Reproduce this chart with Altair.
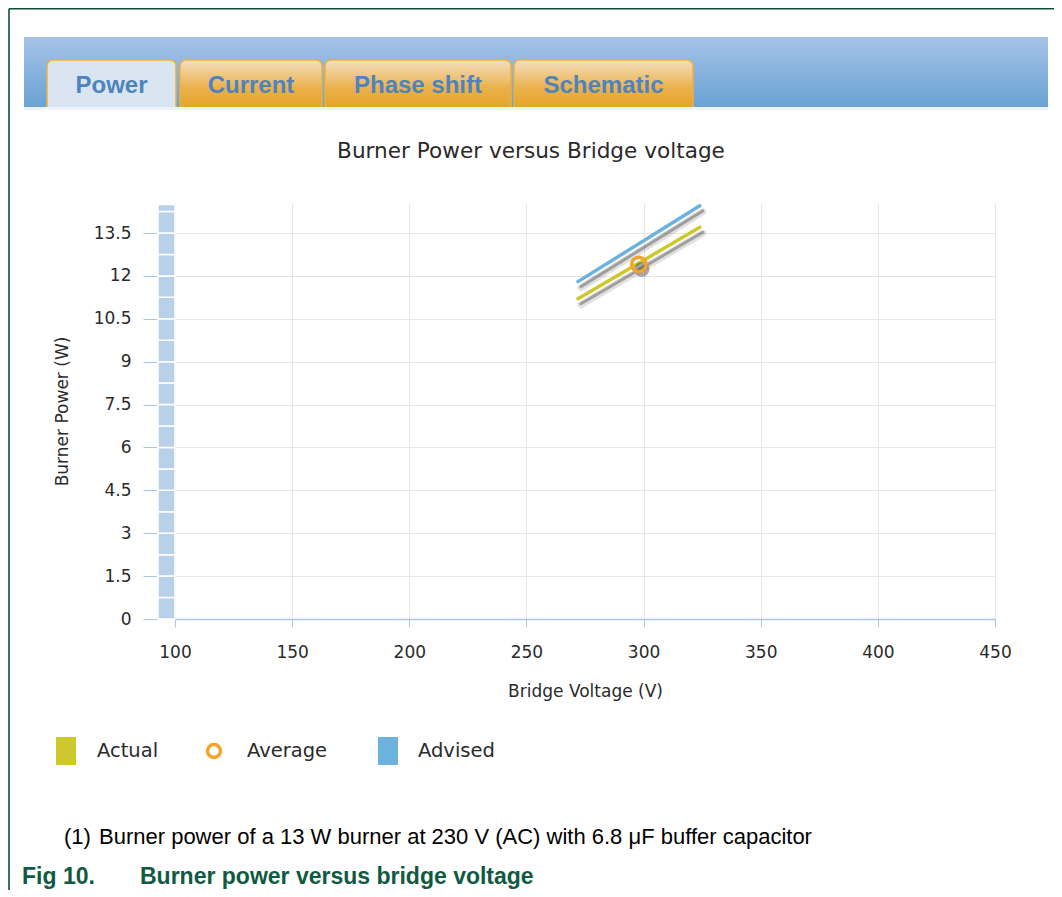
import altair as alt
import pandas as pd

# ---------------- data ----------------
actual_volts = [272, 324]
actual_power = [11.2, 13.7]
advised_volts = [272, 324]
advised_power = [11.8, 14.45]
average_volts = [298]
average_power = [12.4]

x_ticks = [100, 150, 200, 250, 300, 350, 400, 450]
y_ticks = [0, 1.5, 3, 4.5, 6, 7.5, 9, 10.5, 12, 13.5]
band_lo = [0, 0.75, 1.5, 2.25, 3, 3.75, 4.5, 5.25, 6, 6.75, 7.5, 8.25, 9, 9.75,
           10.5, 11.25, 12, 12.75, 13.5, 14.25]
band_hi = [0.75, 1.5, 2.25, 3, 3.75, 4.5, 5.25, 6, 6.75, 7.5, 8.25, 9, 9.75,
           10.5, 11.25, 12, 12.75, 13.5, 14.25, 14.5]

tab_labels = ["Power", "Current", "Phase shift", "Schematic"]
legend_labels = ["Actual", "Average", "Advised"]
chart_title = "Burner Power versus Bridge voltage"
x_title = "Bridge Voltage (V)"
y_title = "Burner Power (W)"
footnote_num = "(1)"
footnote_text = "Burner power of a 13 W burner at 230 V (AC) with 6.8 \u03bcF buffer capacitor"
fig_num = "Fig 10."
fig_text = "Burner power versus bridge voltage"

# ---------------- styles ----------------
ACTUAL = "#cdc92c"
ADVISED = "#6cb2de"
AVERAGE = "#f2a52a"
AXIS_BLUE = "#a9c6e3"
GRID = "#e6e6e6"
TXT = "#2a2a2a"
TAB_TXT = "#4e84bd"
GREEN = "#0f5a40"
FONT = "DejaVu Sans"

W, H = 820, 416
OX, OY = 175, 203  # page position of plot origin
TOTAL_W, TOTAL_H = 1046, 882


def rx(px):
    return px - OX


def ry(py):
    return py - OY


one = pd.DataFrame({"k": [0]})


def rect(x1, x2, y1, y2, **kw):
    return alt.Chart(one).mark_rect(**kw).encode(
        x=alt.value(rx(x1)), x2=alt.value(rx(x2)),
        y=alt.value(ry(y1)), y2=alt.value(ry(y2)))


def rule(x1, x2, y1, y2, **kw):
    return alt.Chart(one).mark_rule(**kw).encode(
        x=alt.value(rx(x1)), x2=alt.value(rx(x2)),
        y=alt.value(ry(y1)), y2=alt.value(ry(y2)))


def text(s, x, y, **kw):
    return alt.Chart(one).mark_text(text=s, **kw).encode(
        x=alt.value(rx(x)), y=alt.value(ry(y)))


xs = alt.Scale(domain=[100, 450], nice=False, zero=False)
ys = alt.Scale(domain=[0, 14.55], nice=False, zero=False)

x_axis = alt.Axis(values=x_ticks, title=x_title, grid=True, gridColor=GRID,
                  domainColor=AXIS_BLUE, domainWidth=1.5, tickColor=AXIS_BLUE,
                  tickSize=8, labelFont=FONT, labelFontSize=17, labelColor=TXT,
                  labelPadding=17, labelFlush=False, labelOverlap=False,
                  titleFont=FONT, titleFontSize=17, titleFontWeight="normal",
                  titleColor=TXT, titlePadding=23)
y_axis = alt.Axis(values=y_ticks, title=y_title, format=".1~f", grid=True,
                  gridColor=GRID, domain=False, offset=18, tickColor=AXIS_BLUE,
                  tickSize=14, labelFont=FONT, labelFontSize=17, labelColor=TXT,
                  labelPadding=12, labelFlush=False, labelOverlap=False,
                  titleFont=FONT, titleFontSize=17, titleFontWeight="normal",
                  titleColor=TXT, titlePadding=22)

X = lambda: alt.X("volt:Q", scale=xs, axis=x_axis)
Y = lambda: alt.Y("power:Q", scale=ys, axis=y_axis)

lines_df = pd.DataFrame({
    "volt": actual_volts + advised_volts,
    "power": actual_power + advised_power,
    "series": ["Actual"] * len(actual_volts) + ["Advised"] * len(advised_volts),
})
avg_df = pd.DataFrame({"volt": average_volts, "power": average_power})
band_df = pd.DataFrame({"power": band_lo, "power2": band_hi})

color_scale = alt.Scale(domain=["Actual", "Average", "Advised"],
                        range=[ACTUAL, AVERAGE, ADVISED])

shadow1 = alt.Chart(lines_df).mark_line(
    color="#6a6a6a", strokeWidth=7, opacity=0.2, xOffset=3, yOffset=6,
    strokeCap="round").encode(x=X(), y=Y(), detail="series:N")
shadow2 = alt.Chart(lines_df).mark_line(
    color="#505050", strokeWidth=3, opacity=0.45, xOffset=3, yOffset=5,
    strokeCap="round").encode(x=X(), y=Y(), detail="series:N")
lines = alt.Chart(lines_df).mark_line(strokeWidth=3.5, strokeCap="round").encode(
    x=X(), y=Y(),
    color=alt.Color("series:N", scale=color_scale, legend=None),
    detail="series:N")
avg_shadow = alt.Chart(avg_df).mark_point(
    shape="circle", filled=True, color="#404040", opacity=0.45, size=230,
    xOffset=3, yOffset=5).encode(x=X(), y=Y())
avg_pt = alt.Chart(avg_df).mark_point(
    shape="circle", filled=False, color=AVERAGE, size=210, strokeWidth=3.5,
    opacity=1).encode(x=X(), y=Y())

# y-axis band
band = alt.Chart(band_df).mark_rect(color="#b9d1e8", stroke="white",
                                     strokeWidth=1.5).encode(
    x=alt.value(-17), x2=alt.value(0),
    y=Y(), y2="power2:Q")

# ---------------- decorations ----------------
band_grad = alt.LinearGradient(
    gradient="linear", x1=0, x2=0, y1=0, y2=1,
    stops=[alt.GradientStop(color="#a6c4e8", offset=0),
           alt.GradientStop(color="#6aa2d3", offset=1)])
tab_grad = alt.LinearGradient(
    gradient="linear", x1=0, x2=0, y1=0, y2=1,
    stops=[alt.GradientStop(color="#f4dfbf", offset=0),
           alt.GradientStop(color="#eab04a", offset=0.6),
           alt.GradientStop(color="#e6a427", offset=1)])

deco = []
deco.append(rect(24, 1048, 37, 107, color=band_grad))
tab_x = [(47, 176), (180, 322), (325, 511), (514, 693)]
for i, (a, b) in enumerate(tab_x):
    fill = "#d9e5f0" if i == 0 else tab_grad
    deco.append(rect(a, b, 60, 108, color=fill, stroke="#f0b13a",
                     strokeWidth=1.5, cornerRadiusTopLeft=6,
                     cornerRadiusTopRight=6))
    deco.append(text(tab_labels[i], (a + b) / 2, 93, font="Liberation Sans",
                     fontSize=24, fontWeight="bold", color=TAB_TXT,
                     baseline="alphabetic", align="center"))
deco.append(rect(24, 1048, 107, 110, color="#eef3f8"))

# frame lines
deco.append(rule(9, 1054, 8.8, 8.8, color="#0e4d3c", strokeWidth=1.6))
deco.append(rule(9, 9, 8.8, 890, color="#0e4d3c", strokeWidth=1.6))

# chart title
deco.append(text(chart_title, 531, 158, font=FONT, fontSize=21.6, color=TXT,
                 baseline="alphabetic", align="center"))

# legend
deco.append(rect(56, 76, 737, 765, color=ACTUAL))
deco.append(text(legend_labels[0], 97, 751, font=FONT, fontSize=19.5, color=TXT,
                 align="left", baseline="middle"))
deco.append(alt.Chart(one).mark_point(shape="circle", filled=False,
                                      color=AVERAGE, size=170, strokeWidth=3.5,
                                      opacity=1).encode(
    x=alt.value(rx(214)), y=alt.value(ry(751))))
deco.append(text(legend_labels[1], 247, 751, font=FONT, fontSize=19.5, color=TXT,
                 align="left", baseline="middle"))
deco.append(rect(378, 398, 737, 765, color=ADVISED))
deco.append(text(legend_labels[2], 418, 751, font=FONT, fontSize=19.5, color=TXT,
                 align="left", baseline="middle"))

# footnote and figure caption
deco.append(text(footnote_num, 64, 844, font="Liberation Sans", fontSize=22,
                 color="#000000", align="left", baseline="alphabetic"))
deco.append(text(footnote_text, 99, 844, font="Liberation Sans", fontSize=22,
                 color="#000000", align="left", baseline="alphabetic"))
deco.append(text(fig_num, 22, 884, font="Liberation Sans", fontSize=23,
                 fontWeight="bold", color=GREEN, align="left",
                 baseline="alphabetic"))
deco.append(text(fig_text, 140, 884, font="Liberation Sans", fontSize=23,
                 fontWeight="bold", color=GREEN, align="left",
                 baseline="alphabetic"))

chart = alt.layer(shadow1, band, shadow2, lines, avg_shadow, avg_pt, *deco).properties(
    width=W, height=H,
    padding={"left": OX - 8, "top": OY - 8, "right": TOTAL_W - (OX - 8) - W,
             "bottom": TOTAL_H - (OY - 8) - H},
    autosize=alt.AutoSizeParams(type="none"),
    background="white",
).configure_view(strokeWidth=0)

chart.save("out.html", embed_options={"renderer": "svg", "actions": False})
